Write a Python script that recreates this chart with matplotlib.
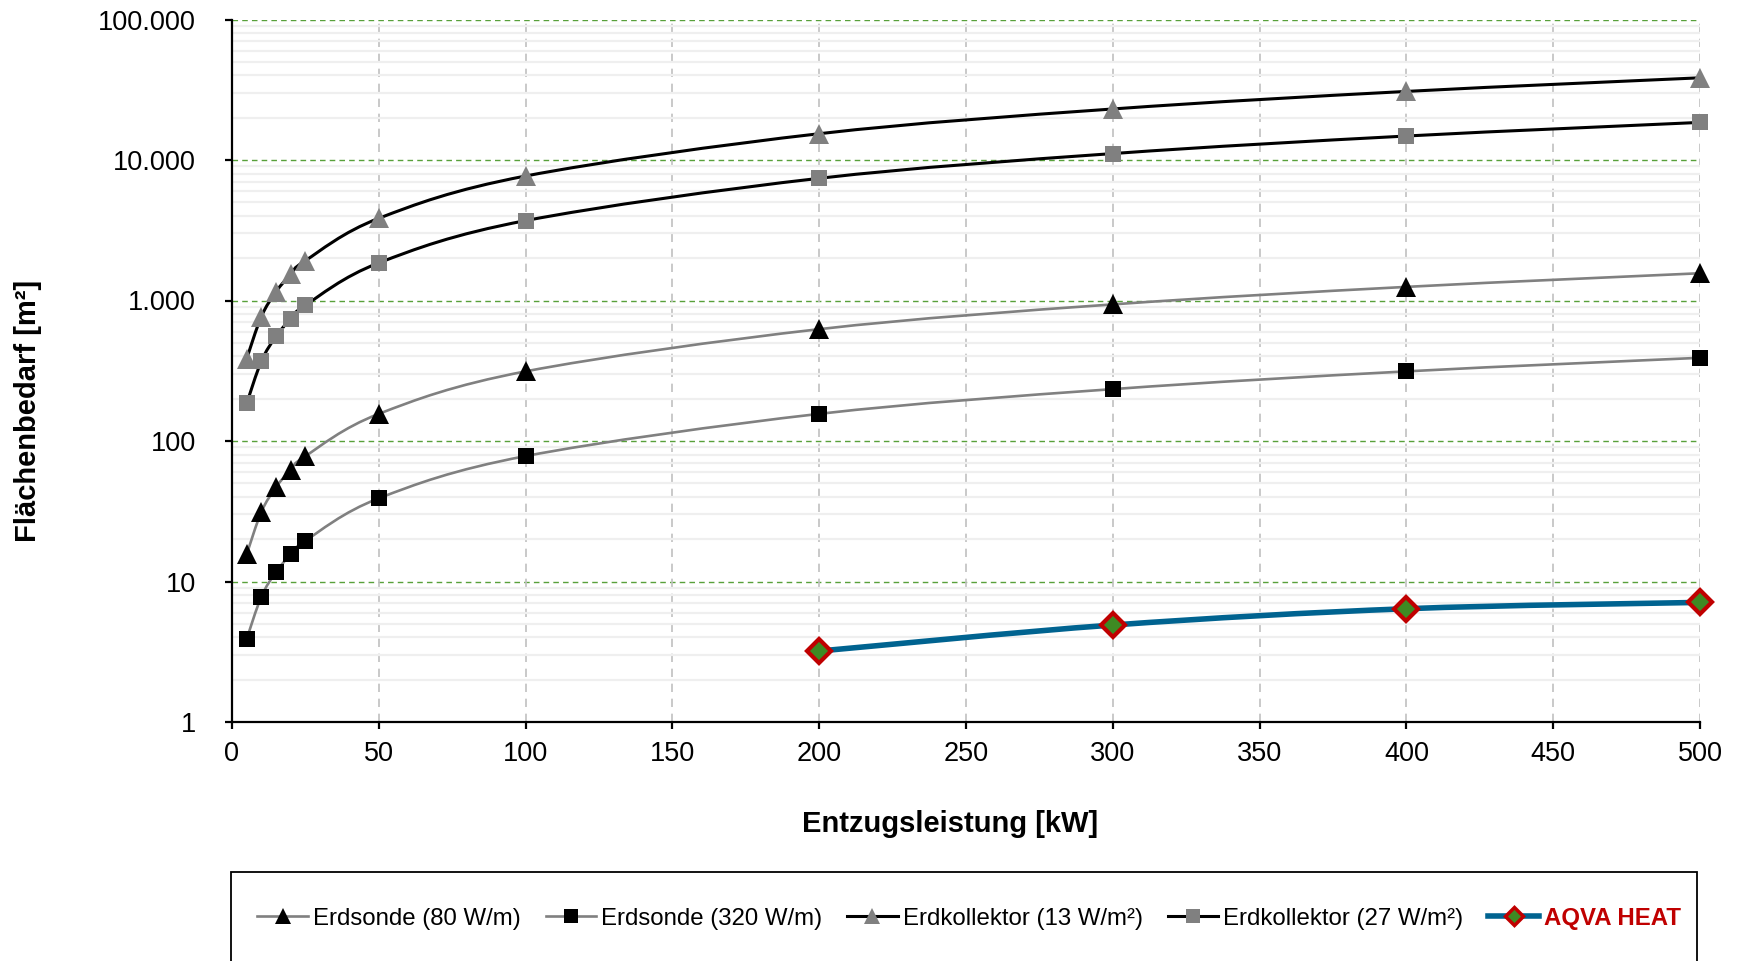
import matplotlib
matplotlib.use('Agg')
import matplotlib.pyplot as plt
import numpy as np
from matplotlib.path import Path
from matplotlib.patches import PathPatch, Rectangle
from matplotlib.lines import Line2D
from matplotlib.ticker import FixedLocator, FuncFormatter, LogLocator, NullFormatter

plt.rcParams['font.family'] = ['Liberation Sans', 'DejaVu Sans']

# Daten
leistung = [5, 10, 15, 20, 25, 50, 100, 200, 300, 400, 500]
sonde_80 = [15.6, 31.3, 46.9, 62.5, 78.1, 156, 313, 625, 938, 1250, 1563]
sonde_320 = [3.9, 7.8, 11.7, 15.6, 19.5, 39.1, 78.1, 156, 234, 313, 391]
kollektor_13 = [385, 769, 1154, 1538, 1923, 3846, 7692, 15385, 23077, 30769, 38462]
kollektor_27 = [185, 370, 556, 741, 926, 1852, 3704, 7407, 11111, 14815, 18519]
aqva_leistung = [200, 300, 400, 500]
aqva_heat = [3.2, 4.9, 6.4, 7.1]

XMAX = 500
YDEC = 5


def smooth_path(xs, ys):
    # Excel-artige Glaettung (Catmull-Rom als Bezier) in Achsenkoordinaten
    p = np.column_stack([np.asarray(xs, float) / XMAX, np.log10(ys) / YDEC])
    verts = [p[0]]
    codes = [Path.MOVETO]
    n = len(p)
    for i in range(n - 1):
        p0 = p[i - 1] if i > 0 else p[i]
        p3 = p[i + 2] if i + 2 < n else p[i + 1]
        c1 = p[i] + (p[i + 1] - p0) / 6
        c2 = p[i + 1] - (p3 - p[i]) / 6
        verts += [c1, c2, p[i + 1]]
        codes += [Path.CURVE4] * 3
    return Path(verts, codes)


fig = plt.figure(figsize=(17.38, 9.61), dpi=100)
ax = fig.add_axes([232 / 1738, 1 - 722 / 961, 1468 / 1738, 702.5 / 961])

ax.set_xlim(0, XMAX)
ax.set_yscale('log')
ax.set_ylim(1, 10 ** YDEC)

# Gitter
ax.set_xticks(np.arange(0, 501, 50))
ax.yaxis.set_major_locator(FixedLocator([1, 10, 100, 1000, 10000, 100000]))
ax.yaxis.set_minor_locator(LogLocator(base=10, subs=np.arange(2, 10)))
ax.yaxis.set_minor_formatter(NullFormatter())
ax.yaxis.set_major_formatter(FuncFormatter(lambda v, p: f"{int(round(v)):,}".replace(',', '.')))

ax.grid(True, which='minor', axis='y', color='#efefef', lw=1.6, ls='-', zorder=0)
for dec in [10, 100, 1000, 10000, 100000]:
    ax.axhline(dec, color='#58a03a', lw=1.0, ls=(0, (4, 3)), zorder=1)
for xv in np.arange(50, 501, 50):
    ax.axvline(xv, color='#c0c0c0', lw=1.2, ls=(0, (5, 4)), zorder=1)

ax.spines['top'].set_visible(False)
ax.spines['right'].set_visible(False)
ax.spines['left'].set_linewidth(1.6)
ax.spines['bottom'].set_linewidth(1.6)
ax.tick_params(axis='y', which='major', length=5, width=1.6, direction='out', pad=21, labelsize=19.5)
ax.tick_params(axis='y', which='minor', length=0)
ax.tick_params(axis='x', length=5, width=1.6, direction='out', pad=9, labelsize=19.5)

# Reihen
reihen = [
    (sonde_80, '^', 'black', '#808080', 1.9, 14, 'Erdsonde (80 W/m)'),
    (sonde_320, 's', 'black', '#808080', 1.9, 12, 'Erdsonde (320 W/m)'),
    (kollektor_13, '^', '#808080', 'black', 2.2, 14, 'Erdkollektor (13 W/m²)'),
    (kollektor_27, 's', '#808080', 'black', 2.2, 12, 'Erdkollektor (27 W/m²)'),
]
handles = []
for werte, mk, mcol, lcol, lw, ms, name in reihen:
    ax.add_patch(PathPatch(smooth_path(leistung, werte), transform=ax.transAxes,
                           fill=False, edgecolor=lcol, lw=lw, zorder=3))
    ax.plot(leistung, werte, ls='none', marker=mk, ms=ms, mfc=mcol, mec=mcol, mew=0,
            zorder=4, clip_on=False)
    handles.append(Line2D([], [], color=lcol, lw=lw, marker=mk, ms=ms * 0.8,
                          mfc=mcol, mec=mcol, mew=0, label=name))

ax.add_patch(PathPatch(smooth_path(aqva_leistung, aqva_heat), transform=ax.transAxes,
                       fill=False, edgecolor='#006390', lw=4, zorder=5))
ax.plot(aqva_leistung, aqva_heat, ls='none', marker='D', ms=12, mfc='#3e8a23',
        mec='#c00000', mew=3, zorder=6, clip_on=False)
handles.append(Line2D([], [], color='#006390', lw=4, marker='D', ms=9,
                      mfc='#3e8a23', mec='#c00000', mew=2.5, label='AQVA HEAT'))

# Achsentitel
fig.text(28 / 1738, 1 - 411 / 961, 'Flächenbedarf [m²]', rotation=90, ha='center',
         va='center', fontsize=21, fontweight='bold')
fig.text(950 / 1738, 1 - 824 / 961, 'Entzugsleistung [kW]', ha='center',
         va='center', fontsize=21, fontweight='bold')

# Legende
fig.patches.append(Rectangle((231 / 1738, 1 - 968 / 961), 1466 / 1738, 96 / 961,
                             transform=fig.transFigure, fill=False, edgecolor='black',
                             lw=1.3))
leg = fig.legend(handles=handles, loc='center', bbox_to_anchor=(969 / 1738, 1 - 918 / 961),
                 ncol=5, frameon=False, fontsize=17.3, handlelength=2.1,
                 handletextpad=0.2, columnspacing=1.05)
leg.get_texts()[-1].set_color('#c00000')
leg.get_texts()[-1].set_fontweight('bold')

fig.savefig('out.png', dpi=100)
